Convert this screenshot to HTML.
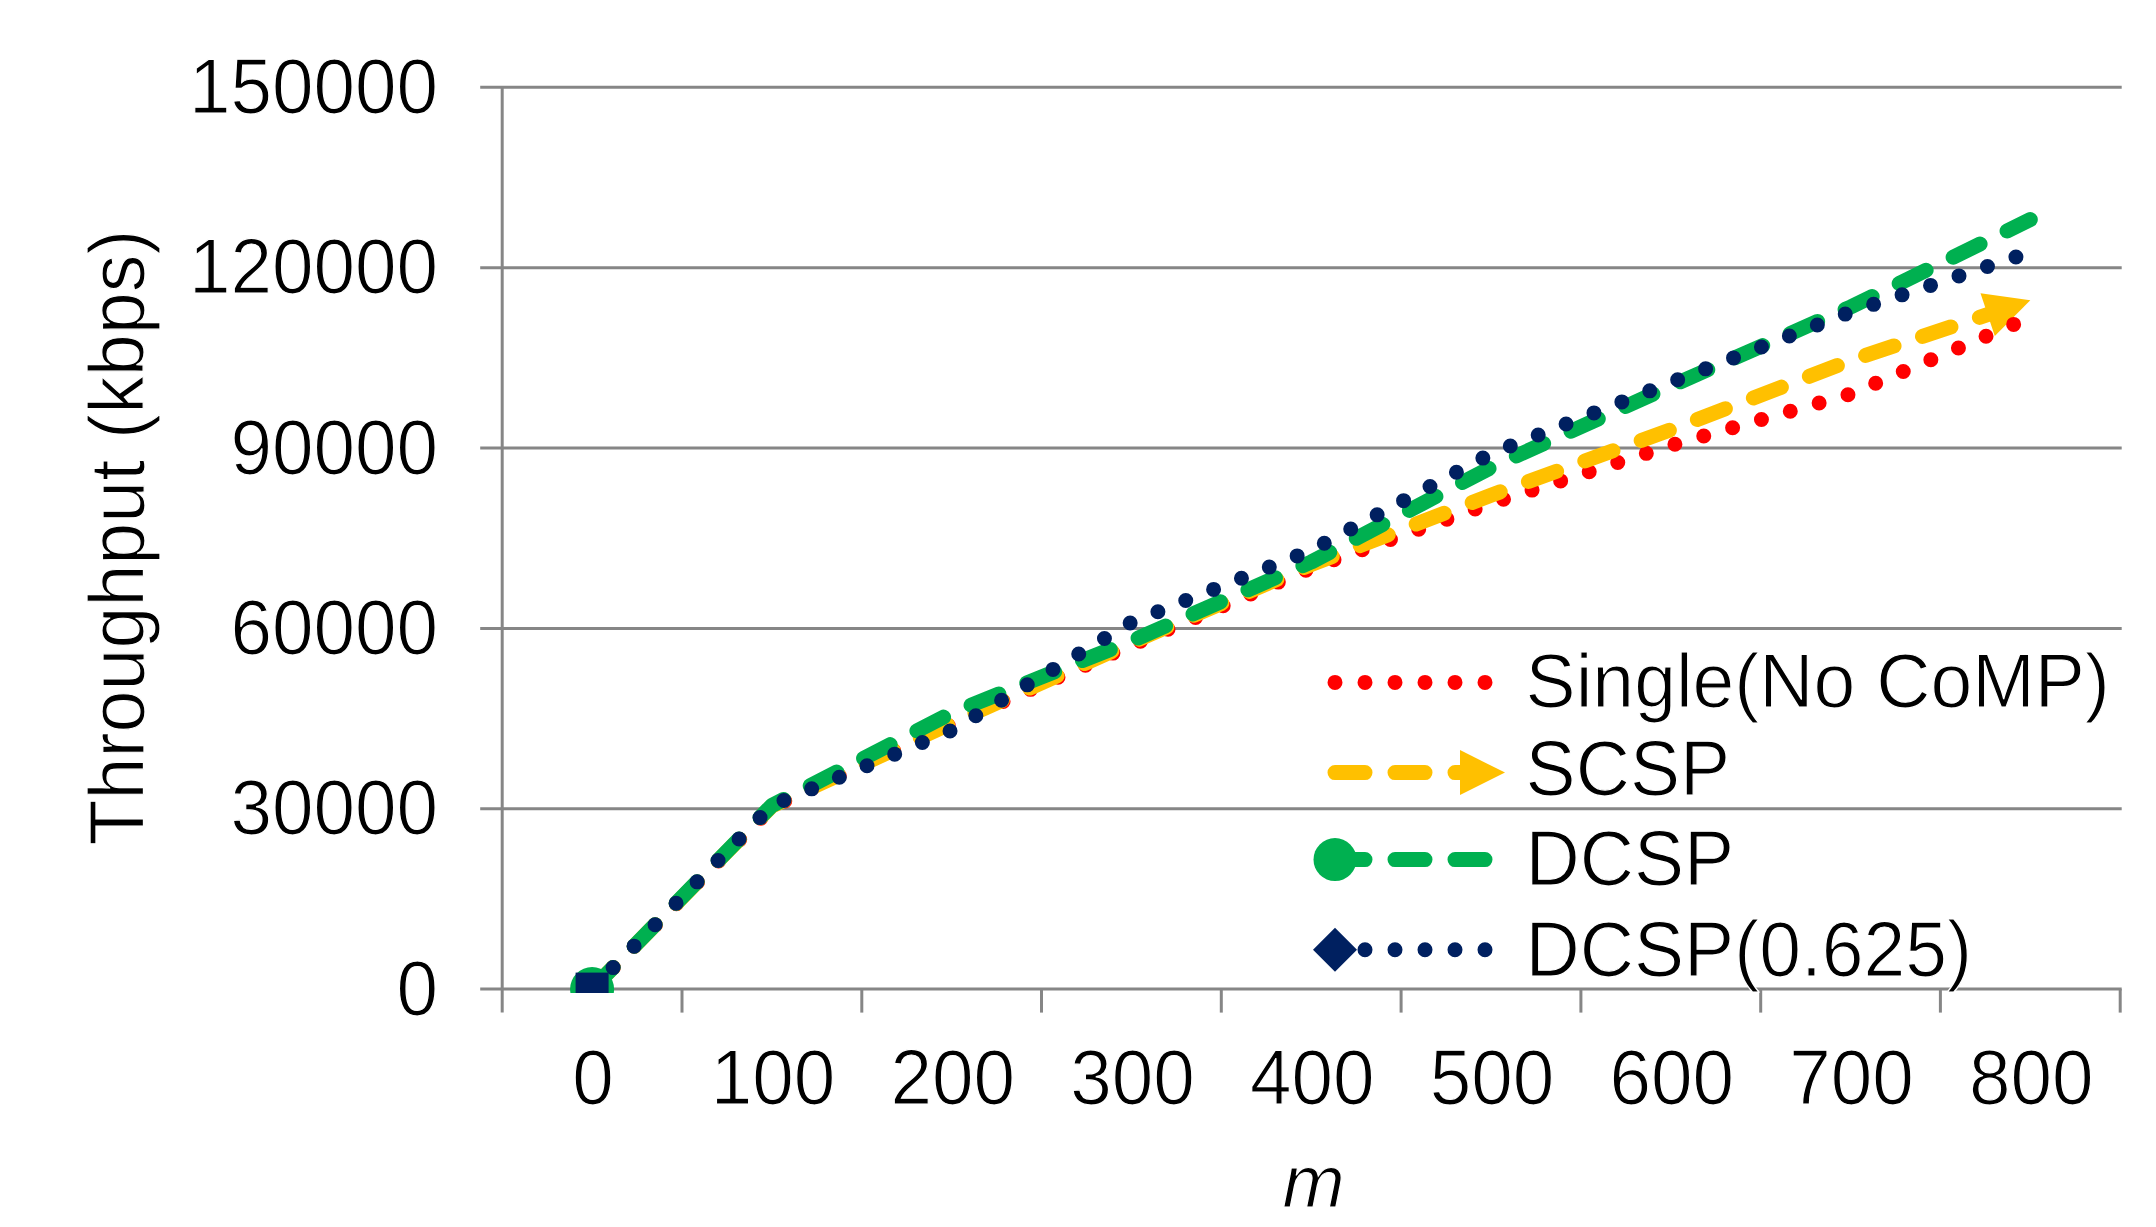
<!DOCTYPE html>
<html><head><meta charset="utf-8"><title>Throughput chart</title>
<style>
html,body{margin:0;padding:0;background:#fff;}
body{width:2156px;height:1227px;overflow:hidden;position:relative;}
svg{position:absolute;left:0;top:0;display:block;}
text{font-family:"Liberation Sans",Arial,sans-serif;font-size:74.67px;fill:#000;stroke:#fff;stroke-width:1.2px;}
</style></head><body>
<svg width="2156" height="1227" viewBox="0 0 2156 1227">
<defs><clipPath id="plot"><rect x="502.2" y="0" width="1657.9999999999998" height="993.1"/></clipPath></defs>
<rect x="0" y="0" width="2156" height="1227" fill="#fff"/>
<g stroke="#868686" stroke-width="3" fill="none">
<line x1="480.2" y1="87.3" x2="2121.7" y2="87.3"/>
<line x1="480.2" y1="267.7" x2="2121.7" y2="267.7"/>
<line x1="480.2" y1="448.0" x2="2121.7" y2="448.0"/>
<line x1="480.2" y1="628.4" x2="2121.7" y2="628.4"/>
<line x1="480.2" y1="808.7" x2="2121.7" y2="808.7"/>
<line x1="480.2" y1="989.1" x2="2121.7" y2="989.1"/>
<line x1="502.2" y1="87.3" x2="502.2" y2="1012.6"/>
<line x1="682.0" y1="989.1" x2="682.0" y2="1012.6"/>
<line x1="861.8" y1="989.1" x2="861.8" y2="1012.6"/>
<line x1="1041.5" y1="989.1" x2="1041.5" y2="1012.6"/>
<line x1="1221.3" y1="989.1" x2="1221.3" y2="1012.6"/>
<line x1="1401.1" y1="989.1" x2="1401.1" y2="1012.6"/>
<line x1="1580.9" y1="989.1" x2="1580.9" y2="1012.6"/>
<line x1="1760.7" y1="989.1" x2="1760.7" y2="1012.6"/>
<line x1="1940.4" y1="989.1" x2="1940.4" y2="1012.6"/>
<line x1="2120.2" y1="989.1" x2="2120.2" y2="1012.6"/>
</g>
<g clip-path="url(#plot)" fill="none" stroke-linecap="round" stroke-linejoin="round">
<polygon points="2030.3,300.3 1994.8,335.9 1980.5,293.3" fill="#FFC000" stroke="none"/>
<polyline points="592.1,989.0 771.9,807.0 951.7,724.0 1131.4,645.0 1311.2,568.0 1491.0,503.3 1670.8,445.5 1850.6,394.0 2030.3,317.3" stroke="#FF0000" stroke-width="15" stroke-dasharray="0 30"/>
<polyline points="592.1,989.0 771.9,806.0 951.7,723.0 1131.4,642.5 1311.2,564.5 1491.0,495.2 1670.8,429.7 1850.6,360.5 1993.4,312.7" stroke="#FFC000" stroke-width="15" stroke-dasharray="30 30"/>
<circle cx="592.1" cy="989.1" r="22" fill="#00B050" stroke="none"/>
<polyline points="592.1,989.0 771.9,805.5 951.7,712.9 1131.4,641.0 1311.2,562.0 1491.0,467.5 1670.8,386.0 1850.6,307.0 2030.3,219.6" stroke="#00B050" stroke-width="15" stroke-dasharray="30 30"/>
<polyline points="592.1,989.0 771.9,805.5 951.7,730.3 1131.4,622.3 1311.2,550.3 1491.0,453.7 1670.8,382.5 1850.6,312.0 2030.3,252.2" stroke="#002060" stroke-width="15" stroke-dasharray="0 30"/>
<rect x="575.6" y="972.6" width="33" height="33" fill="#002060" stroke="none"/>
</g>
<text transform="translate(438.0,113.0) scale(1,1.04)" text-anchor="end">150000</text>
<text transform="translate(438.0,293.4) scale(1,1.04)" text-anchor="end">120000</text>
<text transform="translate(438.0,473.7) scale(1,1.04)" text-anchor="end">90000</text>
<text transform="translate(438.0,654.1) scale(1,1.04)" text-anchor="end">60000</text>
<text transform="translate(438.0,834.4) scale(1,1.04)" text-anchor="end">30000</text>
<text transform="translate(438.0,1014.8) scale(1,1.04)" text-anchor="end">0</text>
<text transform="translate(593.1,1104.0) scale(1,1.04)" text-anchor="middle">0</text>
<text transform="translate(772.9,1104.0) scale(1,1.04)" text-anchor="middle">100</text>
<text transform="translate(952.7,1104.0) scale(1,1.04)" text-anchor="middle">200</text>
<text transform="translate(1132.4,1104.0) scale(1,1.04)" text-anchor="middle">300</text>
<text transform="translate(1312.2,1104.0) scale(1,1.04)" text-anchor="middle">400</text>
<text transform="translate(1492.0,1104.0) scale(1,1.04)" text-anchor="middle">500</text>
<text transform="translate(1671.8,1104.0) scale(1,1.04)" text-anchor="middle">600</text>
<text transform="translate(1851.6,1104.0) scale(1,1.04)" text-anchor="middle">700</text>
<text transform="translate(2031.3,1104.0) scale(1,1.04)" text-anchor="middle">800</text>
<text transform="translate(1313.5,1207.0) scale(1,0.985)" text-anchor="middle" font-style="italic">m</text>
<text transform="translate(143.5,537.5) rotate(-90) scale(1,1.025)" text-anchor="middle" style="font-size:75.4px">Throughput (kbps)</text>
<g fill="none" stroke-linecap="round">
<line x1="1335" y1="682.4" x2="1493" y2="682.4" stroke="#FF0000" stroke-width="15" stroke-dasharray="0 30"/>
<line x1="1335" y1="772.6" x2="1462" y2="772.6" stroke="#FFC000" stroke-width="15" stroke-dasharray="30 30"/>
<polygon points="1505,772.6 1460,750.1 1460,795.1" fill="#FFC000"/>
<line x1="1335" y1="859.6" x2="1493" y2="859.6" stroke="#00B050" stroke-width="15" stroke-dasharray="30 30"/>
<circle cx="1335" cy="859.6" r="21.5" fill="#00B050"/>
<line x1="1335" y1="949.8" x2="1493" y2="949.8" stroke="#002060" stroke-width="15" stroke-dasharray="0 30"/>
<polygon points="1313,949.8 1335,927.8 1357,949.8 1335,971.8" fill="#002060"/>
</g>
<text transform="translate(1525.6,707.2) scale(1,1.02)" text-anchor="start" style="font-size:75.1px">Single(No CoMP)</text>
<text transform="translate(1525.6,794.7) scale(1,1.035)" text-anchor="start" style="font-size:75.1px">SCSP</text>
<text transform="translate(1525.6,885.1) scale(1,1.035)" text-anchor="start" style="font-size:75.1px">DCSP</text>
<text transform="translate(1525.6,975.6) scale(1,1.035)" text-anchor="start" style="font-size:75.1px">DCSP(0.625)</text>
</svg></body></html>
